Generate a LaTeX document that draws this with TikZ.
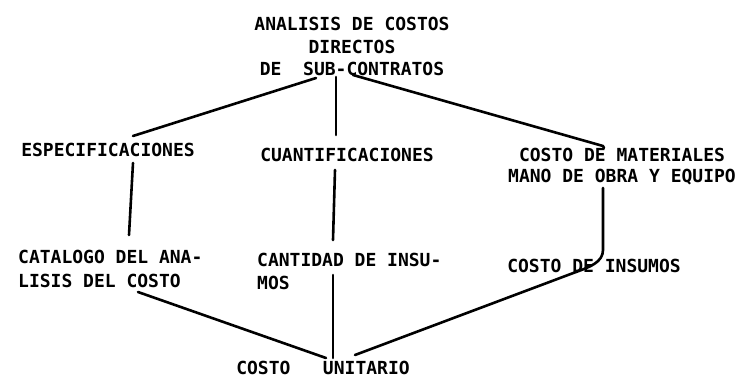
\documentclass[tikz,border=0pt]{standalone}
\usepackage{fontspec}
\setmonofont{DejaVu Sans Mono}
\begin{document}
\begin{tikzpicture}[x=1pt,y=-1pt,
  lbl/.style={font=\fontsize{18}{22.5}\selectfont\ttfamily\bfseries, inner sep=0pt},
  conn/.style={line width=2.6pt, line cap=round, line join=round}]
\useasboundingbox[fill=white] (0,0) rectangle (744,385);
% nodes
\node[lbl, align=center] (title) at (352,46.5) {ANALISIS DE COSTOS\\DIRECTOS\\DE~~SUB-CONTRATOS};
\node[lbl] (esp) at (108,150) {ESPECIFICACIONES};
\node[lbl] (cuant) at (347,155) {CUANTIFICACIONES};
\node[lbl, align=center, font=\fontsize{18}{21}\selectfont\ttfamily\bfseries] (mat) at (622,166.5) {COSTO DE MATERIALES\\MANO DE OBRA Y EQUIPO};
\node[lbl, align=left, anchor=west, font=\fontsize{18}{24}\selectfont\ttfamily\bfseries] (cat) at (18,269) {CATALOGO DEL ANA-\\LISIS DEL COSTO};
\node[lbl, align=left, anchor=west, font=\fontsize{18}{23}\selectfont\ttfamily\bfseries] (cant) at (257,271.5) {CANTIDAD DE INSU-\\MOS};
\node[lbl] (ins) at (594,266) {COSTO DE INSUMOS};
\node[lbl] (unit) at (323,368) {COSTO~~~UNITARIO};
% connectors
\draw[conn] ([shift={(-36,31.5)}]title.center) -- ([shift={(25,-14)}]esp.center);
\draw[conn] ([shift={(-16,30.5)}]title.center) -- ([shift={(-11,-20)}]cuant.center);
\draw[conn] ([shift={(1,28.5)}]title.center) -- ([shift={(-19,-20.5)}]mat.center) -- ([shift={(-18,-18.5)}]mat.center);
\draw[conn] ([shift={(25,13)}]esp.center) -- ([shift={(111,-34)}]cat.west);
\draw[conn] ([shift={(-12,15)}]cuant.center) -- ([shift={(76,-31.5)}]cant.west);
\draw[conn] ([shift={(-19,21.5)}]mat.center) -- ([shift={(9,-16)}]ins.center)
   .. controls ([shift={(9,-4)}]ins.center) and ([shift={(-4,1)}]ins.center) .. ([shift={(-18,6)}]ins.center);
\draw[conn] ([shift={(-18,6)}]ins.center) -- ([shift={(32,-13)}]unit.center);
\draw[conn] ([shift={(120,23)}]cat.west) -- ([shift={(3,-10)}]unit.center);
\draw[conn] ([shift={(76,3.5)}]cant.west) -- ([shift={(10,-10)}]unit.center);
\end{tikzpicture}
\end{document}
